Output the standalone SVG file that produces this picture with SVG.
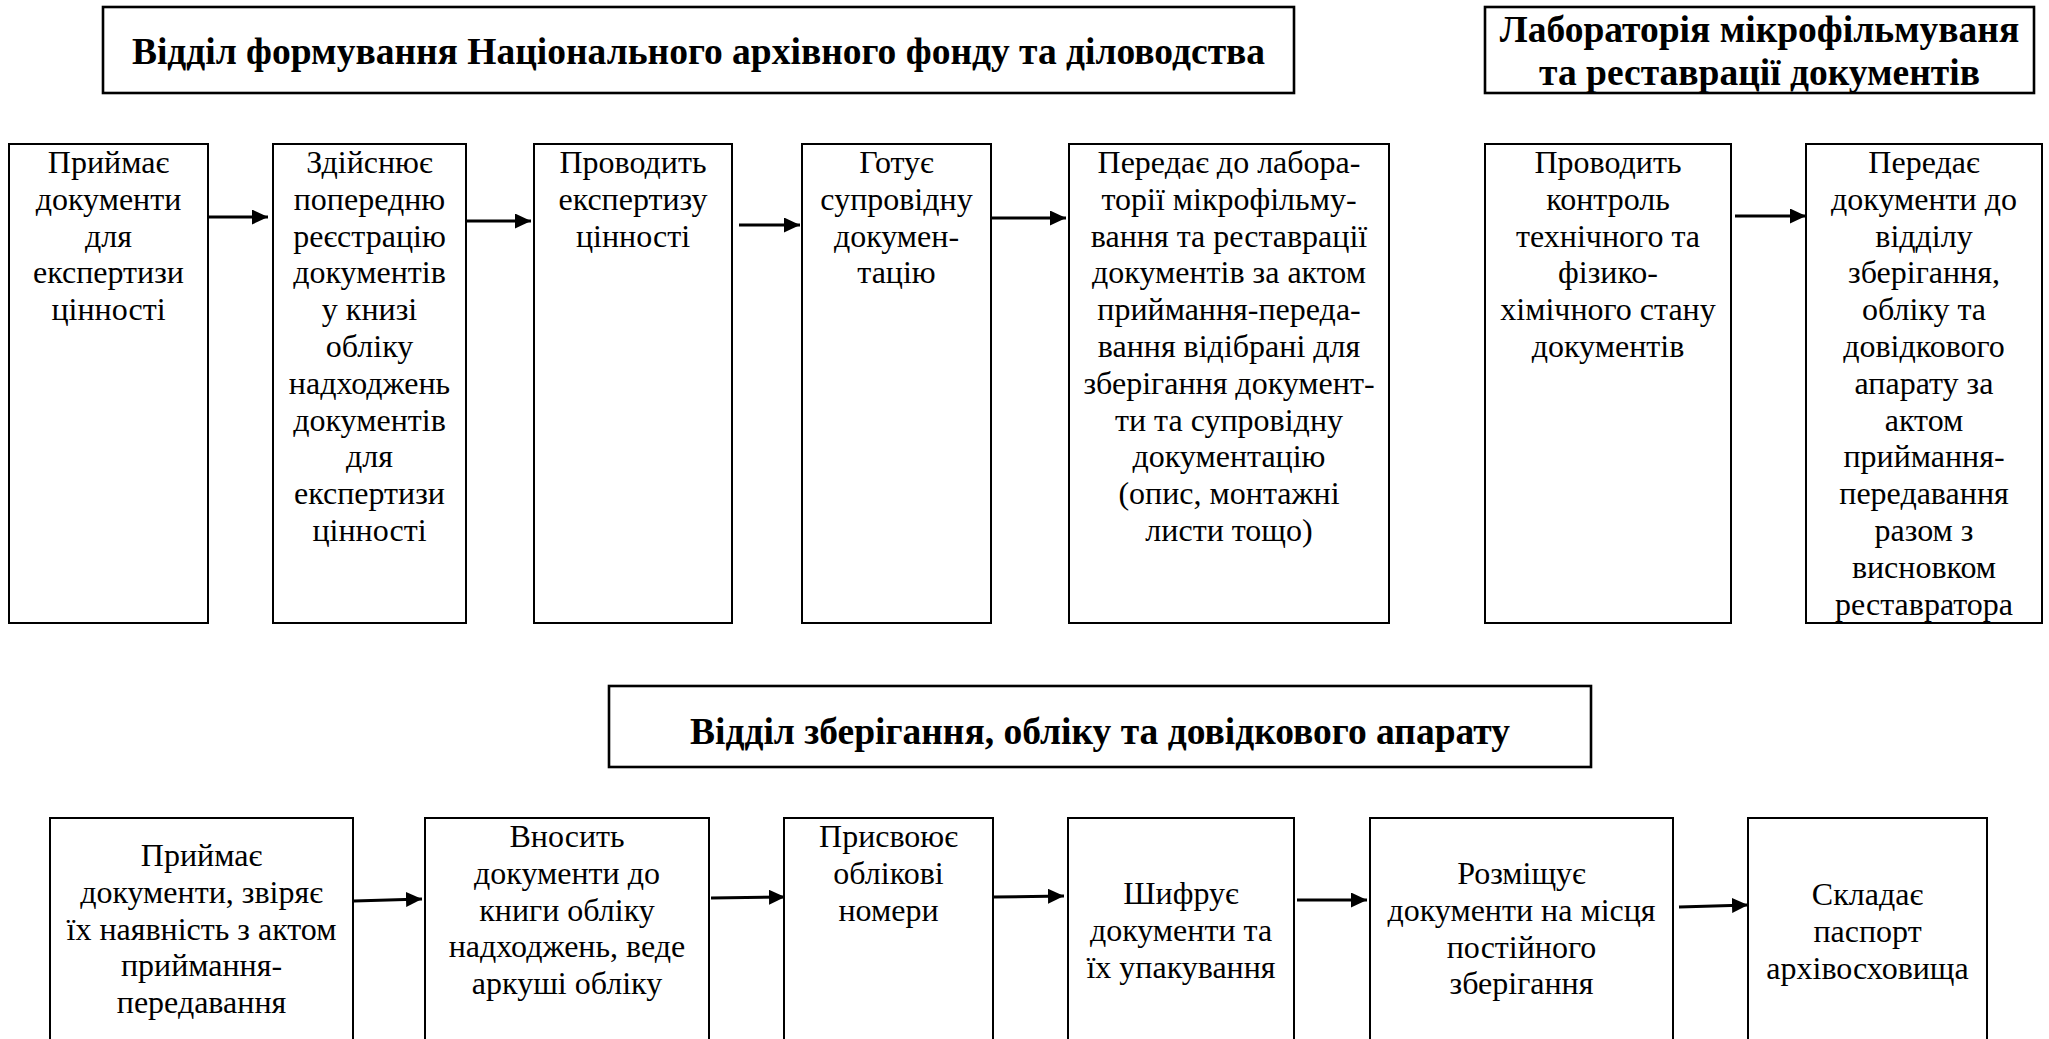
<svg xmlns="http://www.w3.org/2000/svg" width="2049" height="1039" viewBox="0 0 2049 1039">
<style>
.bg{fill:#ffffff}
.box{fill:#ffffff;stroke:#000;stroke-width:2}
.tbox{fill:#ffffff;stroke:#000;stroke-width:2.6}
.t{font-family:"Liberation Serif","Times New Roman",serif;font-size:32px;fill:#000;text-anchor:middle}
.h{font-family:"Liberation Serif","Times New Roman",serif;font-size:37.5px;font-weight:bold;fill:#000;text-anchor:middle}
.arr{stroke:#000;stroke-width:3;fill:none;marker-end:url(#ah)}
</style>
<defs>
<marker id="ah" viewBox="0 0 16 15" refX="16" refY="7.5" markerWidth="16" markerHeight="15" markerUnits="userSpaceOnUse" orient="auto">
<path d="M0,0 L16,7.5 L0,15 z" fill="#000"/>
</marker>
</defs>
<rect class="bg" x="0" y="0" width="2049" height="1039"/>

<g id="title-formation">
<rect class="tbox" x="103" y="7" width="1191" height="86"/>
<text class="h" x="698.5" y="64">Відділ формування Національного архівного фонду та діловодства</text>
</g>
<g id="title-lab">
<rect class="tbox" x="1485" y="7" width="549" height="86"/>
<text class="h" x="1759.5" y="42">Лабораторія мікрофільмуваня</text>
<text class="h" x="1759.5" y="85">та реставрації документів</text>
</g>
<g id="title-storage">
<rect class="tbox" x="609" y="686" width="982" height="81"/>
<text class="h" x="1100" y="744">Відділ зберігання, обліку та довідкового апарату</text>
</g>

<g id="node-a">
<rect class="box" x="9" y="144" width="199" height="479"/>
<text class="t" x="108.5" y="173">Приймає</text>
<text class="t" x="108.5" y="209.8">документи</text>
<text class="t" x="108.5" y="246.6">для</text>
<text class="t" x="108.5" y="283.4">експертизи</text>
<text class="t" x="108.5" y="320.2">цінності</text>
</g>
<g id="node-b">
<rect class="box" x="273" y="144" width="193" height="479"/>
<text class="t" x="369.5" y="173">Здійснює</text>
<text class="t" x="369.5" y="209.8">попередню</text>
<text class="t" x="369.5" y="246.6">реєстрацію</text>
<text class="t" x="369.5" y="283.4">документів</text>
<text class="t" x="369.5" y="320.2">у книзі</text>
<text class="t" x="369.5" y="357">обліку</text>
<text class="t" x="369.5" y="393.8">надходжень</text>
<text class="t" x="369.5" y="430.6">документів</text>
<text class="t" x="369.5" y="467.4">для</text>
<text class="t" x="369.5" y="504.2">експертизи</text>
<text class="t" x="369.5" y="541">цінності</text>
</g>
<g id="node-c">
<rect class="box" x="534" y="144" width="198" height="479"/>
<text class="t" x="633" y="173">Проводить</text>
<text class="t" x="633" y="209.8">експертизу</text>
<text class="t" x="633" y="246.6">цінності</text>
</g>
<g id="node-d">
<rect class="box" x="802" y="144" width="189" height="479"/>
<text class="t" x="896.5" y="173">Готує</text>
<text class="t" x="896.5" y="209.8">супровідну</text>
<text class="t" x="896.5" y="246.6">докумен-</text>
<text class="t" x="896.5" y="283.4">тацію</text>
</g>
<g id="node-e">
<rect class="box" x="1069" y="144" width="320" height="479"/>
<text class="t" x="1229" y="173">Передає до лабора-</text>
<text class="t" x="1229" y="209.8">торії мікрофільму-</text>
<text class="t" x="1229" y="246.6">вання та реставрації</text>
<text class="t" x="1229" y="283.4">документів за актом</text>
<text class="t" x="1229" y="320.2">приймання-переда-</text>
<text class="t" x="1229" y="357">вання відібрані для</text>
<text class="t" x="1229" y="393.8">зберігання документ-</text>
<text class="t" x="1229" y="430.6">ти та супровідну</text>
<text class="t" x="1229" y="467.4">документацію</text>
<text class="t" x="1229" y="504.2">(опис, монтажні</text>
<text class="t" x="1229" y="541">листи тощо)</text>
</g>
<g id="node-f">
<rect class="box" x="1485" y="144" width="246" height="479"/>
<text class="t" x="1608" y="173">Проводить</text>
<text class="t" x="1608" y="209.8">контроль</text>
<text class="t" x="1608" y="246.6">технічного та</text>
<text class="t" x="1608" y="283.4">фізико-</text>
<text class="t" x="1608" y="320.2">хімічного стану</text>
<text class="t" x="1608" y="357">документів</text>
</g>
<g id="node-g">
<rect class="box" x="1806" y="144" width="236" height="479"/>
<text class="t" x="1924" y="173">Передає</text>
<text class="t" x="1924" y="209.8">документи до</text>
<text class="t" x="1924" y="246.6">відділу</text>
<text class="t" x="1924" y="283.4">зберігання,</text>
<text class="t" x="1924" y="320.2">обліку та</text>
<text class="t" x="1924" y="357">довідкового</text>
<text class="t" x="1924" y="393.8">апарату за</text>
<text class="t" x="1924" y="430.6">актом</text>
<text class="t" x="1924" y="467.4">приймання-</text>
<text class="t" x="1924" y="504.2">передавання</text>
<text class="t" x="1924" y="541">разом з</text>
<text class="t" x="1924" y="577.8">висновком</text>
<text class="t" x="1924" y="614.6">реставратора</text>
</g>

<g id="node-h">
<rect class="box" x="50" y="818" width="303" height="240"/>
<text class="t" x="201.5" y="866">Приймає</text>
<text class="t" x="201.5" y="902.8">документи, звіряє</text>
<text class="t" x="201.5" y="939.6">їх наявність з актом</text>
<text class="t" x="201.5" y="976.4">приймання-</text>
<text class="t" x="201.5" y="1013.2">передавання</text>
</g>
<g id="node-i">
<rect class="box" x="425" y="818" width="284" height="240"/>
<text class="t" x="567" y="847">Вносить</text>
<text class="t" x="567" y="883.8">документи до</text>
<text class="t" x="567" y="920.6">книги обліку</text>
<text class="t" x="567" y="957.4">надходжень, веде</text>
<text class="t" x="567" y="994.2">аркуші обліку</text>
</g>
<g id="node-j">
<rect class="box" x="784" y="818" width="209" height="240"/>
<text class="t" x="888.5" y="847">Присвоює</text>
<text class="t" x="888.5" y="883.8">облікові</text>
<text class="t" x="888.5" y="920.6">номери</text>
</g>
<g id="node-k">
<rect class="box" x="1068" y="818" width="226" height="240"/>
<text class="t" x="1181" y="904">Шифрує</text>
<text class="t" x="1181" y="940.8">документи та</text>
<text class="t" x="1181" y="977.6">їх упакування</text>
</g>
<g id="node-l">
<rect class="box" x="1370" y="818" width="303" height="240"/>
<text class="t" x="1521.5" y="884">Розміщує</text>
<text class="t" x="1521.5" y="920.8">документи на місця</text>
<text class="t" x="1521.5" y="957.6">постійного</text>
<text class="t" x="1521.5" y="994.4">зберігання</text>
</g>
<g id="node-m">
<rect class="box" x="1748" y="818" width="239" height="240"/>
<text class="t" x="1867.5" y="905">Складає</text>
<text class="t" x="1867.5" y="941.8">паспорт</text>
<text class="t" x="1867.5" y="978.6">архівосховища</text>
</g>

<g id="connectors">
<line class="arr" x1="208" y1="217" x2="268" y2="217"/>
<line class="arr" x1="466" y1="221" x2="531" y2="221"/>
<line class="arr" x1="739" y1="225" x2="800" y2="225"/>
<line class="arr" x1="992" y1="218" x2="1066" y2="218"/>
<line class="arr" x1="1735" y1="216" x2="1806" y2="216"/>
<line class="arr" x1="354" y1="901" x2="422" y2="899"/>
<line class="arr" x1="711" y1="898" x2="785" y2="897"/>
<line class="arr" x1="993" y1="897" x2="1064" y2="896"/>
<line class="arr" x1="1297" y1="900" x2="1367" y2="900"/>
<line class="arr" x1="1679" y1="907" x2="1748" y2="905"/>
</g>
</svg>
